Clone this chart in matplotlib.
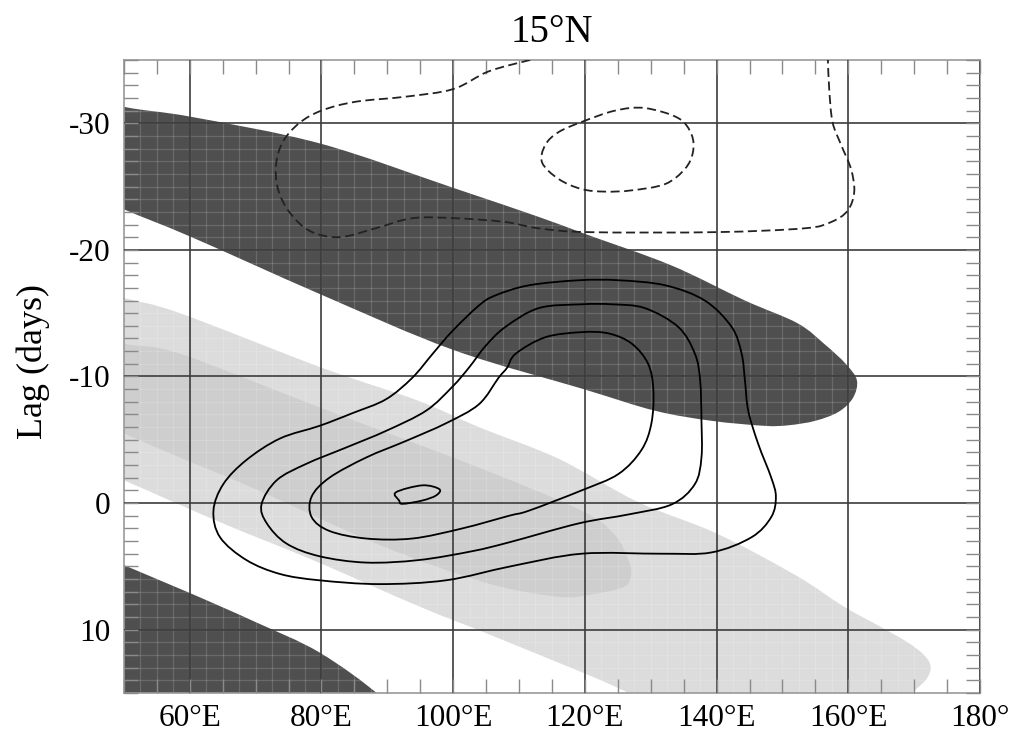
import matplotlib
matplotlib.use('Agg')
import matplotlib.pyplot as plt
import numpy as np
from matplotlib.path import Path
from matplotlib.patches import PathPatch
from matplotlib.ticker import MultipleLocator, FixedLocator

plt.rcParams['font.family'] = ['Liberation Serif', 'DejaVu Serif']

# shaded regions, outlines as (lon, lag); corners west of 50E lie outside the frame
dark_top_lon = [40, 50, 60.3, 79.8, 100, 113, 119.8, 133, 144.3, 152.3, 156.5, 159.6, 161.3,
                160.7, 158.5, 155, 151, 147.3, 139.2, 130.6, 119.8, 100, 79.8, 60.3, 50, 40]
dark_top_lag = [-32.7, -31.3, -30.5, -28.4, -24.9, -22.6, -21.3, -18.8, -16.0, -14.2, -12.5, -11.0, -9.7,
                -8.3, -7.2, -6.5, -6.15, -6.1, -6.5, -7.3, -9.0, -12.1, -16.5, -21.0, -23.2, -25.5]

dark_low_lon = [40, 50, 60, 70, 79.7, 88.8, 92, 40]
dark_low_lag = [2.6, 4.9, 7.1, 9.4, 11.8, 15.2, 17.5, 17.5]

light_lon = [40, 50, 58.5, 80, 94.6, 103.9, 116, 128, 140, 152, 159.4, 165, 169, 171.5, 172.5, 172, 170.5,
             168, 160, 128, 126.6, 107, 95, 78.7, 65, 50, 40]
light_lag = [-17.6, -16.2, -15.0, -10.7, -8.1, -6.0, -3.5, -0.1, 2.4, 5.7, 8.2, 9.8, 11.0, 12.0, 12.9, 13.8, 14.6,
             15.5, 16.5, 16.5, 15.0, 10.7, 8.2, 4.5, 1.6, -1.8, -4.0]

mid_lon = [40, 50, 58.5, 80, 103.9, 119.5, 124.5, 126.6, 127, 126, 121.1, 116, 105, 88.8, 70, 58.5, 50, 40]
mid_lag = [-14.0, -12.6, -11.8, -7.5, -2.8, 0.6, 2.5, 4.5, 5.6, 6.6, 7.2, 7.4, 6.3, 3.3, -1.1, -3.6, -5.5, -7.7]

# positive contours (solid)
c1_lon = [119.1, 111.5, 106.4, 103.9, 99.9, 96.9, 93.8, 89.8, 84.7, 79.7, 73.7, 68.6, 65.1, 63.6, 64.6, 68.6,
          73.7, 79.7, 88.8, 98.9, 108.7, 119.5, 131.6, 139.2, 145.3, 148.3, 149.0, 148.3, 146.3, 144.8, 144.3,
          143.8, 142.3, 138.2, 132.2, 125.1]
c1_lag = [-17.6, -17.2, -16.4, -15.6, -13.6, -11.8, -9.9, -8.2, -7.1, -6.1, -5.1, -3.4, -1.5, 0.6, 2.7, 4.5,
          5.6, 6.1, 6.4, 6.1, 5.0, 4.0, 4.0, 3.9, 2.7, 1.1, -0.5, -2.0, -4.7, -7.3, -9.7,
          -11.8, -13.9, -16.0, -17.2, -17.6]

c2_lon = [119.5, 113.0, 107.9, 104.9, 102.4, 99.9, 95.9, 89.8, 83.8, 77.7, 73.2, 70.9, 71.7, 74.7, 79.7, 86.8,
          94.8, 102.9, 108.5, 119.1, 126.6, 133.2, 136.7, 137.7, 137.7, 137.5, 136.7, 134.2, 129.1, 124.1]
c2_lag = [-15.7, -15.4, -13.9, -12.4, -10.7, -9.2, -7.3, -5.7, -4.4, -3.1, -1.8, 0.1, 1.6, 3.2, 4.2, 4.7,
          4.5, 3.8, 3.1, 1.6, 0.9, 0.1, -1.5, -3.6, -6.5, -9.7, -11.8, -13.9, -15.4, -15.7]

c3_lon = [119.5, 114.0, 109.5, 108.2, 106.9, 103.9, 98.9, 92.8, 86.8, 81.2, 78.5, 78.5, 81.2, 86.8, 93.8, 101.4,
          108.5, 111.5, 119.5, 125.1, 128.6, 130.1, 130.4, 129.6, 127.1, 123.6]
c3_lag = [-13.5, -13.1, -11.8, -10.7, -9.9, -7.8, -6.3, -4.9, -3.6, -2.0, -0.5, 1.1, 2.2, 2.8, 2.8, 2.0,
          1.0, 0.6, -1.0, -2.3, -4.2, -6.3, -8.9, -11.0, -12.6, -13.4]

c4_lon = [91.3, 95.3, 97.9, 97.4, 95.3, 92.3, 91.8]
c4_lag = [-0.85, -1.4, -1.1, -0.6, -0.2, 0.06, -0.2]

# negative contours (dashed)
n1_lon = [111.7, 105.4, 100.0, 92.8, 85.2, 80.0, 76.6, 74.1, 73.1, 73.4, 75.1, 78.2, 82.7, 88.2, 93.8, 100.3,
          107.9, 113.0, 120.6, 139.9, 153.3, 157.4, 159.9, 160.9, 160.4, 158.9, 157.6, 157.1, 156.9]
n1_lag = [-35.0, -34.1, -32.7, -32.1, -31.7, -31.0, -30.0, -28.5, -26.7, -24.8, -23.0, -21.5, -21.0, -21.7, -22.5, -22.5,
          -22.2, -21.7, -21.4, -21.4, -21.7, -22.2, -23.1, -24.6, -26.4, -28.3, -30.1, -32.7, -35.0]

n2_lon = [119.5, 124.6, 129.1, 134.2, 136.2, 136.4, 135.2, 132.2, 127.1, 123.1, 119.5, 116.0, 113.5, 114.0, 116.0]
n2_lag = [-30.1, -31.0, -31.2, -30.4, -29.1, -27.7, -26.4, -25.2, -24.7, -24.6, -24.8, -25.6, -26.9, -28.3, -29.3]

xticks = [60, 80, 100, 120, 140, 160, 180]
xlabels = ['60°E', '80°E', '100°E', '120°E', '140°E', '160°E', '180°']
yticks = [-30, -20, -10, 0, 10]
ylabels = ['-30', '-20', '-10', '0', '10']

DARK, LIGHT, MID = '#4f4f4f', '#dcdcdc', '#cecece'


def spline_path(xs, ys, closed=True):
    """Smooth Bezier path running through every given vertex (Catmull-Rom)."""
    p = np.column_stack([xs, ys]).astype(float)
    n = len(p)
    if closed:
        pts = np.vstack([p[-1], p, p[0], p[1]])
    else:
        pts = np.vstack([p[0], p, p[-1]])
    verts, codes = [pts[1]], [Path.MOVETO]
    nseg = n if closed else n - 1
    for i in range(1, nseg + 1):
        p0, p1, p2, p3 = pts[i - 1], pts[i], pts[i + 1], pts[i + 2]
        verts += [p1 + (p2 - p0) / 6, p2 - (p3 - p1) / 6, p2]
        codes += [Path.CURVE4] * 3
    return Path(verts, codes)


fig = plt.figure(figsize=(10.18, 7.41), dpi=100, facecolor='white')
ax = fig.add_axes([0.1217, 0.0648, 0.8410, 0.8543])

for lo, la, col, z in [(light_lon, light_lag, LIGHT, 1), (mid_lon, mid_lag, MID, 1.1),
                       (dark_top_lon, dark_top_lag, DARK, 1.2), (dark_low_lon, dark_low_lag, DARK, 1.2)]:
    ax.add_patch(PathPatch(spline_path(lo, la), facecolor=col, lw=0, zorder=z))

# faint cell lines that show through the shading
for x in np.arange(52.5, 180, 2.5):
    ax.axvline(x, color='white', lw=0.9, alpha=0.15, zorder=1.5)
for y in np.arange(-35, 16, 1):
    ax.axhline(y, color='white', lw=0.9, alpha=0.15, zorder=1.5)

for lo, la in [(c1_lon, c1_lag), (c2_lon, c2_lag), (c3_lon, c3_lag), (c4_lon, c4_lag)]:
    ax.add_patch(PathPatch(spline_path(lo, la), facecolor='none', edgecolor='black', lw=1.3, zorder=3))
ax.add_patch(PathPatch(spline_path(n1_lon, n1_lag, closed=False), facecolor='none', edgecolor='#222222',
                       lw=1.3, ls=(0, (5, 2.5)), zorder=3))
ax.add_patch(PathPatch(spline_path(n2_lon, n2_lag), facecolor='none', edgecolor='#222222',
                       lw=1.3, ls=(0, (5, 2.5)), zorder=3))

ax.set_xlim(50, 180)
ax.set_ylim(15, -35)
ax.xaxis.set_major_locator(FixedLocator(xticks))
ax.set_xticklabels(xlabels)
ax.yaxis.set_major_locator(FixedLocator(yticks))
ax.set_yticklabels(ylabels)
ax.xaxis.set_minor_locator(MultipleLocator(5))
ax.yaxis.set_minor_locator(MultipleLocator(1))
ax.set_axisbelow(False)
ax.grid(which='major', color='#3c3c3c', lw=1.2)
ax.tick_params(which='both', direction='in', top=True, right=True, length=10, width=1,
               color='#8a8a8a', labelsize=22.5)
ax.tick_params(axis='x', pad=8)
ax.tick_params(axis='y', pad=10)
for s in ax.spines.values():
    s.set_color('#9a9a9a')
    s.set_linewidth(1.2)

ax.set_ylabel('Lag (days)', fontsize=26)
ax.yaxis.set_label_coords(-0.086, 0.523)
ax.set_title('15°N', fontsize=28, pad=13)

fig.savefig('out.png', dpi=100, facecolor='white')
